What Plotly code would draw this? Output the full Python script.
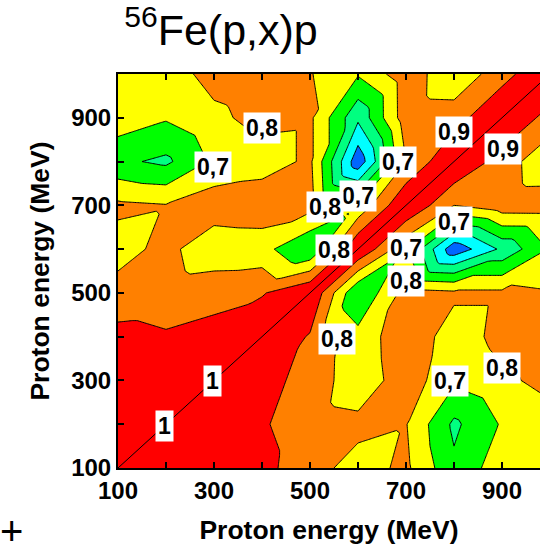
import numpy as np
import plotly.graph_objects as go

# Proton energies (MeV) of the covariance grid
energies = [100, 200, 300, 400, 500, 600, 700, 800, 900, 1000]

# Upper-triangle correlation values C(x, y) for y > x, one list per x
corr_x100 = [0.97, 0.95, 0.93, 0.84, 0.76, 0.82, 0.62, 0.76, 0.75]
corr_x200 = [0.95, 0.91, 0.85, 0.83, 0.805, 0.58, 0.71, 0.76]
corr_x300 = [0.93, 0.87, 0.73, 0.86, 0.72, 0.78, 0.83]
corr_x400 = [0.89, 0.734, 0.874, 0.75, 0.83, 0.85]
corr_x500 = [0.60, 0.84, 0.82, 0.82, 0.806]
corr_x600 = [0.72, 0.33, 0.52, 0.71]
corr_x700 = [0.80, 0.86, 0.863]
corr_x800 = [0.855, 0.72]
corr_x900 = [0.86]

tick_values = [100, 200, 300, 400, 500, 600, 700, 800, 900, 1000]
tick_labels = ["100", " ", "300", " ", "500", " ", "700", " ", "900", " "]

# contour labels: text, x, y (MeV)
label_text = ["0,8", "0,7", "0,7", "0,7", "0,8", "0,9", "0,9", "0,7", "0,7",
              "0,8", "0,8", "0,8", "0,7", "0,8", "1", "1"]
label_x = [399, 297, 683, 599, 532, 801, 902, 801, 700, 551, 700, 556, 792, 900, 297, 197]
label_y = [877, 788, 798, 721, 697, 868, 828, 661, 603, 597, 527, 395, 299, 329, 299, 197]

band_colors = ["#0066FF", "#00FFFF", "#00FF80", "#00FF00", "#FFFF00", "#FF8000", "#FF0000"]

# ---- symmetric correlation matrix (row = y index, column = x index)
upper = [corr_x100, corr_x200, corr_x300, corr_x400, corr_x500,
         corr_x600, corr_x700, corr_x800, corr_x900]
n = len(energies)
Z = np.ones((n, n))
for i, col in enumerate(upper):
    for k, v in enumerate(col):
        j = i + 1 + k
        Z[j, i] = v
        Z[i, j] = v

# ---- render on a triangulated mesh (each grid cell split along the main-diagonal
# direction, linear inside each triangle) so the contours look like the original plot
sub = 10
E = np.array(energies, dtype=float)
xf = np.linspace(E[0], E[-1], (n - 1) * sub + 1)
Zf = np.empty((xf.size, xf.size))
for jj, yv in enumerate(xf):
    j0 = min(int((yv - E[0]) // (E[1] - E[0])), n - 2)
    v = (yv - E[j0]) / (E[j0 + 1] - E[j0])
    for ii, xv in enumerate(xf):
        i0 = min(int((xv - E[0]) // (E[1] - E[0])), n - 2)
        u = (xv - E[i0]) / (E[i0 + 1] - E[i0])
        z00 = Z[j0, i0]; z10 = Z[j0, i0 + 1]; z01 = Z[j0 + 1, i0]; z11 = Z[j0 + 1, i0 + 1]
        if u >= v:
            Zf[jj, ii] = z00 + u * (z10 - z00) + v * (z11 - z10)
        else:
            Zf[jj, ii] = z00 + v * (z01 - z00) + u * (z11 - z01)

colorscale = [[k / (len(band_colors) - 1), c] for k, c in enumerate(band_colors)]

FONT = "Liberation Sans, Arial, sans-serif"

fig = go.Figure()
fig.add_trace(go.Contour(
    x=xf, y=xf, z=Zf,
    colorscale=colorscale,
    showscale=False,
    contours=dict(start=0.4, end=0.9, size=0.1, coloring="fill", showlabels=False),
    line=dict(color="black", width=1, smoothing=0),
    hoverinfo="skip",
))
fig.add_trace(go.Scatter(
    x=[energies[0], energies[-1]], y=[energies[0], energies[-1]],
    mode="lines", line=dict(color="black", width=1), hoverinfo="skip", showlegend=False,
))

for t, lx, ly in zip(label_text, label_x, label_y):
    fig.add_annotation(x=lx, y=ly, text=t, showarrow=False,
                       font=dict(family=FONT, size=23, color="black", weight="bold"),
                       bgcolor="white", borderpad=2)

L, T, B = 118, 74, 78
plot_w = 540 - L
plot_h = 546 - T - B
xmax = energies[0] + plot_w / 0.48

fig.add_annotation(xref="paper", yref="paper", x=(11 - L) / plot_w, y=(468 - 531) / plot_h,
                   xanchor="center", yanchor="middle",
                   text="+", showarrow=False,
                   font=dict(family=FONT, size=40, color="black"))

fig.update_layout(
    width=540, height=546,
    margin=dict(l=L, r=0, t=T, b=B, pad=0),
    paper_bgcolor="white", plot_bgcolor="white",
    showlegend=False,
    title=dict(text="<sup>56</sup>Fe(p,x)p", x=221 / 540, xanchor="center",
               y=1 - 30 / 546, yanchor="middle", yref="container",
               font=dict(family=FONT, size=43, color="black")),
    xaxis=dict(range=[energies[0], xmax], tickvals=tick_values, ticktext=tick_labels,
               ticks="inside", ticklen=6, tickwidth=2, tickcolor="black",
               showline=True, linewidth=2, linecolor="black", mirror="allticks",
               showgrid=False, zeroline=False, automargin=False,
               tickfont=dict(family=FONT, size=24, color="black", weight="bold"),
               title=dict(text="Proton energy (MeV)", standoff=18,
                          font=dict(family=FONT, size=26.5, color="black", weight="bold"))),
    yaxis=dict(range=[energies[0], energies[-1]], tickvals=tick_values, ticktext=tick_labels,
               ticks="inside", ticklen=6, tickwidth=2, tickcolor="black",
               showline=True, linewidth=2, linecolor="black", mirror=False,
               showgrid=False, zeroline=False, automargin=False,
               tickfont=dict(family=FONT, size=24, color="black", weight="bold"),
               title=dict(text="Proton energy (MeV)", standoff=14,
                          font=dict(family=FONT, size=26.5, color="black", weight="bold"))),
)

fig.write_html("out.html", config={"displayModeBar": False},
               post_script="document.body.style.margin='0';document.body.style.overflow='hidden';")
